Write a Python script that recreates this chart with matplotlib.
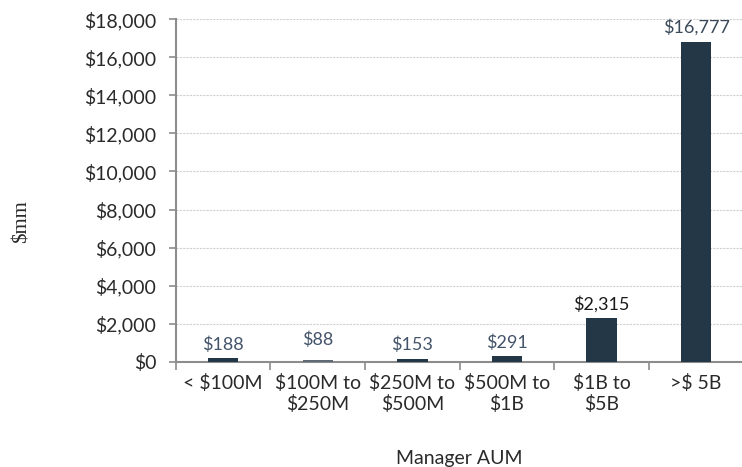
import numpy as np
import matplotlib.pyplot as plt
from matplotlib.ticker import FuncFormatter, FixedLocator

# Data
categories = ['< $100M', '$100M to\n$250M', '$250M to\n$500M', '$500M to\n$1B', '$1B to\n$5B', '>$ 5B']
values = [188, 88, 153, 291, 2315, 16777]
value_labels = ['$188', '$88', '$153', '$291', '$2,315', '$16,777']

bar_color = '#243746'
label_colors = ['#44546a', '#44546a', '#44546a', '#44546a', '#1a1a1a', '#3b4a5a']
axis_gray = '#8c8c8c'

plt.rcParams['font.family'] = ['Lato', 'DejaVu Sans']

fig = plt.figure(figsize=(7.42, 4.67), dpi=100)
ax = fig.add_axes([0.237, 0.225, 0.765, 0.734])

x = np.arange(len(categories))
colors = [bar_color] * len(values)
colors[1] = '#5d6975'
ax.bar(x, values, width=0.32, color=colors, zorder=3)

# data labels
offsets = [4, 9, 4, 4, 4, 5]
for xi, v, lab, c, off in zip(x, values, value_labels, label_colors, offsets):
    ax.annotate(lab, (xi, v), xytext=(0, off), textcoords='offset points',
                ha='center', va='bottom', fontsize=13, color=c)

ax.set_xlim(-0.5, len(categories) - 0.5)
ax.set_ylim(0, 18000)
ax.set_yticks(np.arange(0, 18001, 2000))
ax.yaxis.set_major_formatter(FuncFormatter(lambda v, p: f'${v:,.0f}'))
ax.tick_params(axis='y', labelsize=14, color=axis_gray, length=5, width=1.2, pad=9, labelcolor='#2a2a2a')

ax.set_xticks(x)
ax.set_xticklabels(categories)
ax.xaxis.set_minor_locator(FixedLocator(np.arange(-0.5, len(categories), 1.0)))
ax.tick_params(axis='x', which='major', length=0, labelsize=14, pad=9, labelcolor='#2a2a2a')
ax.tick_params(axis='x', which='minor', length=6, width=1.2, color=axis_gray)

ax.grid(axis='y', color='#d0d0d0', linestyle=(0, (2, 1)), linewidth=0.8, zorder=0)
ax.set_axisbelow(True)

for side in ['top', 'right']:
    ax.spines[side].set_visible(False)
for side in ['left', 'bottom']:
    ax.spines[side].set_color(axis_gray)
    ax.spines[side].set_linewidth(1.5)

ax.set_xlabel('Manager AUM', fontsize=14, color='#2a2a2a', labelpad=26)
ax.set_ylabel('$mm', fontsize=15, color='#2a2a2a', family=['Liberation Serif', 'DejaVu Serif'])
ax.yaxis.set_label_coords(-0.254, 0.41)

fig.savefig('out.png', dpi=100)
